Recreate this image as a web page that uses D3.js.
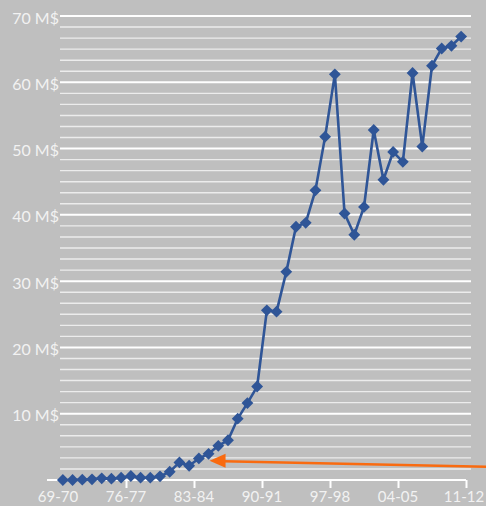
<!DOCTYPE html>
<html>
<head>
<meta charset="utf-8">
<script src="https://cdn.jsdelivr.net/npm/d3@7"></script>
<style>
  html, body { margin: 0; padding: 0; background: #bfbfbf; }
  svg { display: block; }
  text { font-family: Lato, "Open Sans", sans-serif; fill: #f2f2f2; }
</style>
</head>
<body>
<div id="chart"></div>
<script>
// seasons 69-70 .. 10-11, one value each (M$)
var seasons = ["69-70", "70-71", "71-72", "72-73", "73-74", "74-75", "75-76",
    "76-77", "77-78", "78-79", "79-80", "80-81", "81-82", "82-83",
    "83-84", "84-85", "85-86", "86-87", "87-88", "88-89", "89-90",
    "90-91", "91-92", "92-93", "93-94", "94-95", "95-96", "96-97",
    "97-98", "98-99", "99-00", "00-01", "01-02", "02-03", "03-04",
    "04-05", "05-06", "06-07", "07-08", "08-09", "09-10", "10-11"];
var values = [0.0, 0.0, 0.05, 0.1, 0.25, 0.2, 0.35,
    0.6, 0.35, 0.35, 0.55, 1.25, 2.65, 2.15,
    3.25, 3.95, 5.15, 6.0, 9.25, 11.6, 14.1,
    25.6, 25.4, 31.4, 38.2, 38.8, 43.7,
    51.8, 61.2, 40.2, 37.0, 41.2, 52.8, 45.3, 49.5,
    48.0, 61.4, 50.3, 62.5, 65.1, 65.5, 66.9];
var tickLabels = ["69-70", "76-77", "83-84", "90-91", "97-98", "04-05", "11-12"];
var tickIndex = [0, 7, 14, 21, 28, 35, 42];
var yMajor = [10, 20, 30, 40, 50, 60, 70];
// arrow annotation: tip at (index, value)
var arrowTip = { index: 15.6, value: 2.9 };

var width = 486, height = 506;
var svg = d3.select("#chart").append("svg")
    .attr("width", width)
    .attr("height", height);

var x = d3.scaleLinear().domain([0, seasons.length]).range([58, 466]);
var y = d3.scaleLinear().domain([0, 70]).range([480, 16]);

// minor grid (six steps per 10 M$)
var minor = d3.range(0, 70.01, 10 / 6).filter(function (d) {
    return Math.abs(d / 10 - Math.round(d / 10)) > 0.01;
});
svg.append("g").selectAll("line")
    .data(minor)
    .enter().append("line")
    .attr("x1", 60).attr("x2", 471)
    .attr("y1", function (d) { return y(d); })
    .attr("y2", function (d) { return y(d); })
    .style("stroke", "#ececec")
    .style("stroke-width", 1.4);

svg.append("g").selectAll("line")
    .data(yMajor)
    .enter().append("line")
    .attr("x1", 60).attr("x2", 471)
    .attr("y1", function (d) { return y(d); })
    .attr("y2", function (d) { return y(d); })
    .style("stroke", "#ffffff")
    .style("stroke-width", 2);

svg.append("g").selectAll("text")
    .data(yMajor)
    .enter().append("text")
    .attr("x", 59)
    .attr("y", function (d) { return y(d) + 7.6; })
    .attr("text-anchor", "end")
    .style("font-size", "16px")
    .text(function (d) { return d + " M$"; });

// x axis
var xAxis = d3.axisBottom(x)
    .tickValues(tickIndex.slice(1))
    .tickFormat(function (d) { return tickLabels[tickIndex.indexOf(d)]; })
    .tickSize(8)
    .tickSizeOuter(0);
var gx = svg.append("g")
    .attr("transform", "translate(0," + y(0) + ")")
    .call(xAxis);
gx.select(".domain").remove();
gx.selectAll(".tick line").style("stroke", "#ffffff").style("stroke-width", 2);
gx.selectAll(".tick text").remove();
svg.append("line")
    .attr("x1", 47).attr("x2", x(seasons.length))
    .attr("y1", y(0)).attr("y2", y(0))
    .style("stroke", "#ffffff")
    .style("stroke-width", 2);
svg.append("g").selectAll("text")
    .data(tickIndex)
    .enter().append("text")
    .attr("x", function (d, i) { return i === tickIndex.length - 1 ? x(d) - 2 : x(d); })
    .attr("y", 502)
    .attr("text-anchor", "middle")
    .style("font-size", "15px")
    .text(function (d, i) { return tickLabels[i]; });

// series
var line = d3.line()
    .x(function (d, i) { return x(i + 0.5); })
    .y(function (d) { return y(d); });
svg.append("path")
    .datum(values)
    .attr("d", line)
    .style("fill", "none")
    .style("stroke", "#2f5597")
    .style("stroke-width", 2.6)
    .style("stroke-linejoin", "round");

var diamond = d3.symbol().type(d3.symbolSquare).size(70);
svg.append("g").selectAll("path")
    .data(values)
    .enter().append("path")
    .attr("d", diamond)
    .attr("transform", function (d, i) {
        return "translate(" + x(i + 0.5) + "," + y(d) + ") rotate(45)";
    })
    .style("fill", "#2f5597");

// orange arrow
var tipX = x(arrowTip.index), tipY = y(arrowTip.value);
svg.append("line")
    .attr("x1", tipX + 14).attr("y1", tipY + 0.5)
    .attr("x2", width + 2).attr("y2", tipY + 6)
    .style("stroke", "#f96a0f")
    .style("stroke-width", 2.6);
svg.append("path")
    .attr("d", "M" + tipX + "," + tipY + "L" + (tipX + 16) + "," + (tipY - 7) +
        "L" + (tipX + 16) + "," + (tipY + 7) + "Z")
    .style("fill", "#f96a0f");
</script>
</body>
</html>
